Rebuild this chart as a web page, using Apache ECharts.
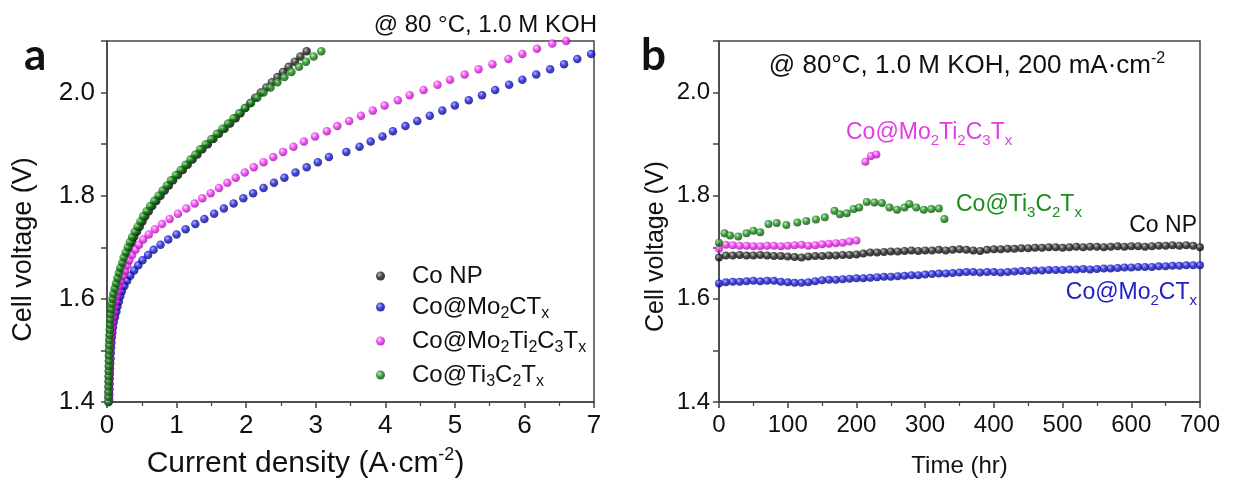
<!DOCTYPE html>
<html>
<head>
<meta charset="UTF-8">
<title>Cell voltage</title>
<script src="https://cdn.jsdelivr.net/npm/echarts@6/dist/echarts.min.js"></script>
<style>
  html, body { margin: 0; background: #fff; }
  #main { width: 1233px; height: 494px; }
</style>
</head>
<body>
<div id="main"></div>
<script>
  // ---- panel a: polarization curves (cell voltage vs current density) ----
  var voltA = [1.40, 1.41, 1.42, 1.43, 1.44, 1.45, 1.46, 1.47, 1.48, 1.49,
    1.50, 1.51, 1.52, 1.53, 1.54, 1.55, 1.56, 1.57, 1.58, 1.59,
    1.60, 1.61, 1.62, 1.63, 1.64, 1.65, 1.66, 1.67, 1.68, 1.69,
    1.70, 1.71, 1.72, 1.73, 1.74, 1.75, 1.76, 1.77, 1.78, 1.79,
    1.80, 1.81, 1.82, 1.83, 1.84, 1.85, 1.86, 1.87, 1.88, 1.89,
    1.90, 1.91, 1.92, 1.93, 1.94, 1.95, 1.96, 1.97, 1.98, 1.99,
    2.00, 2.01, 2.02, 2.03, 2.04, 2.05, 2.06, 2.07, 2.08];
  var voltB = [1.405, 1.415, 1.425, 1.435, 1.445, 1.455, 1.465, 1.475, 1.485, 1.495,
    1.505, 1.515, 1.525, 1.535, 1.545, 1.555, 1.565, 1.575, 1.585, 1.595,
    1.605, 1.615, 1.625, 1.635, 1.645, 1.655, 1.665, 1.675, 1.685, 1.695,
    1.705, 1.715, 1.725, 1.735, 1.745, 1.755, 1.765, 1.775, 1.785, 1.795,
    1.805, 1.815, 1.825, 1.835, 1.845, 1.855, 1.865, 1.875, 1.885, 1.895,
    1.905, 1.915, 1.925, 1.935, 1.945, 1.955, 1.965, 1.975, 1.985, 1.995,
    2.005, 2.015, 2.025, 2.035, 2.045, 2.055, 2.065, 2.075, 2.085, 2.095, 2.1];

  // current density (A cm-2) at each voltage
  var jCoNP = [0.022, 0.023, 0.024, 0.025, 0.026, 0.027, 0.028, 0.029, 0.030, 0.031,
    0.033, 0.035, 0.038, 0.041, 0.045, 0.050, 0.056, 0.064, 0.073, 0.083,
    0.095, 0.11, 0.13, 0.15, 0.17, 0.19, 0.21, 0.24, 0.27, 0.30,
    0.33, 0.36, 0.39, 0.43, 0.47, 0.51, 0.55, 0.60, 0.65, 0.71,
    0.77, 0.83, 0.89, 0.95, 1.02, 1.09, 1.16, 1.23, 1.30, 1.37,
    1.45, 1.53, 1.61, 1.69, 1.77, 1.85, 1.92, 1.99, 2.06, 2.13,
    2.21, 2.29, 2.37, 2.45, 2.53, 2.61, 2.70, 2.78, 2.87];
  var jTi3C2 = [0.020, 0.020, 0.021, 0.022, 0.023, 0.024, 0.025, 0.026, 0.027, 0.028,
    0.030, 0.032, 0.034, 0.037, 0.040, 0.044, 0.048, 0.054, 0.061, 0.070,
    0.080, 0.090, 0.11, 0.13, 0.15, 0.17, 0.19, 0.22, 0.24, 0.27,
    0.30, 0.33, 0.36, 0.40, 0.44, 0.48, 0.52, 0.57, 0.62, 0.68,
    0.74, 0.80, 0.86, 0.92, 0.99, 1.06, 1.13, 1.20, 1.27, 1.34,
    1.42, 1.50, 1.58, 1.66, 1.74, 1.82, 1.90, 1.98, 2.07, 2.16,
    2.25, 2.35, 2.45, 2.55, 2.65, 2.76, 2.86, 2.97, 3.08];
  var jMo2C = [0.030, 0.032, 0.034, 0.036, 0.038, 0.040, 0.043, 0.046, 0.050, 0.054,
    0.058, 0.063, 0.069, 0.076, 0.085, 0.097, 0.115, 0.135, 0.15, 0.17,
    0.19, 0.215, 0.25, 0.29, 0.335, 0.39, 0.45, 0.51, 0.59, 0.67,
    0.77, 0.88, 1.00, 1.13, 1.27, 1.40, 1.54, 1.68, 1.82, 1.96,
    2.10, 2.25, 2.40, 2.55, 2.71, 2.87, 3.03, 3.19, 3.44, 3.63,
    3.79, 3.96, 4.11, 4.29, 4.46, 4.64, 4.82, 5.00, 5.20, 5.39,
    5.58, 5.78, 5.97, 6.17, 6.37, 6.57, 6.76, 6.96];
  var jMo2Ti2 = [0.025, 0.027, 0.029, 0.031, 0.033, 0.035, 0.037, 0.040, 0.043, 0.046,
    0.050, 0.054, 0.059, 0.065, 0.072, 0.080, 0.089, 0.10, 0.11, 0.125,
    0.14, 0.16, 0.18, 0.20, 0.23, 0.26, 0.29, 0.32, 0.36, 0.41,
    0.46, 0.52, 0.60, 0.69, 0.79, 0.90, 1.02, 1.14, 1.26, 1.37,
    1.49, 1.61, 1.73, 1.85, 1.98, 2.11, 2.25, 2.39, 2.53, 2.68,
    2.83, 2.99, 3.16, 3.31, 3.48, 3.65, 3.82, 3.99, 4.18, 4.35,
    4.55, 4.75, 4.93, 5.14, 5.34, 5.54, 5.77, 5.97, 6.18, 6.40, 6.60];

  // ---- panel b: stability at 200 mA cm-2 ----
  var timeB = [0, 10, 20, 30, 40, 50, 60, 70, 80, 90, 100, 110, 120, 130, 140, 150, 160, 170, 180, 190,
    200, 210, 220, 230, 240, 250, 260, 270, 280, 290, 300, 310, 320, 330, 340, 350, 360, 370, 380, 390,
    400, 410, 420, 430, 440, 450, 460, 470, 480, 490, 500, 510, 520, 530, 540, 550, 560, 570, 580, 590,
    600, 610, 620, 630, 640, 650, 660, 670, 680, 690, 700];
  var vCoNP = [1.680, 1.684, 1.684, 1.685, 1.684, 1.684, 1.685, 1.684, 1.683, 1.683,
    1.682, 1.681, 1.680, 1.682, 1.683, 1.683, 1.684, 1.684, 1.685, 1.685,
    1.686, 1.688, 1.690, 1.690, 1.691, 1.692, 1.692, 1.693, 1.694, 1.693,
    1.694, 1.694, 1.695, 1.694, 1.695, 1.696, 1.695, 1.694, 1.693, 1.695,
    1.696, 1.696, 1.697, 1.697, 1.698, 1.698, 1.699, 1.699, 1.700, 1.700,
    1.699, 1.700, 1.701, 1.700, 1.701, 1.701, 1.700, 1.701, 1.702, 1.701,
    1.702, 1.702, 1.701, 1.702, 1.703, 1.703, 1.704, 1.703, 1.704, 1.703, 1.700];
  var vMo2C = [1.630, 1.632, 1.633, 1.633, 1.634, 1.635, 1.634, 1.635, 1.635, 1.633,
    1.632, 1.631, 1.631, 1.632, 1.634, 1.636, 1.637, 1.637, 1.638, 1.639,
    1.640, 1.640, 1.641, 1.642, 1.643, 1.643, 1.644, 1.645, 1.646, 1.646,
    1.647, 1.648, 1.649, 1.649, 1.650, 1.651, 1.652, 1.652, 1.651, 1.652,
    1.652, 1.651, 1.652, 1.653, 1.654, 1.654, 1.655, 1.655, 1.656, 1.656,
    1.656, 1.657, 1.657, 1.658, 1.657, 1.658, 1.659, 1.659, 1.660, 1.661,
    1.661, 1.662, 1.662, 1.662, 1.663, 1.663, 1.664, 1.664, 1.665, 1.665, 1.665];
  var timeMoTi = [0, 10, 20, 30, 40, 50, 60, 70, 80, 90, 100, 110, 120, 130, 140, 150, 160, 170, 180, 190, 200,
    213, 221, 229];
  var vMoTi = [1.697, 1.705, 1.704, 1.703, 1.703, 1.702, 1.702, 1.703, 1.703, 1.702, 1.703,
    1.704, 1.705, 1.703, 1.704, 1.706, 1.707, 1.708, 1.709, 1.711, 1.713,
    1.866, 1.877, 1.880];
  var timeTi = [0, 8, 16, 28, 40, 50, 60, 72, 84, 98, 114, 127, 141, 154, 168, 176, 186, 196, 204,
    215, 226, 237, 248, 259, 270, 277, 287, 298, 309, 320, 328];
  var vTi = [1.709, 1.727, 1.723, 1.721, 1.727, 1.732, 1.729, 1.745, 1.747, 1.743, 1.748, 1.751,
    1.754, 1.758, 1.771, 1.764, 1.766, 1.774, 1.777, 1.788, 1.787, 1.786, 1.777, 1.773, 1.777,
    1.784, 1.777, 1.773, 1.774, 1.775, 1.755];

  var FONT = '"Liberation Sans", Arial, sans-serif';
  var AXIS = '#444';

  function zip(xs, ys) {
    var out = [];
    var n = Math.min(xs.length, ys.length);
    for (var i = 0; i < n; i++) out.push([xs[i], ys[i]]);
    return out;
  }
  // shaded ball look for the markers
  function ball(hi, mid, lo) {
    return {
      type: 'radial', x: 0.38, y: 0.35, r: 0.7,
      colorStops: [{offset: 0, color: hi}, {offset: 0.45, color: mid}, {offset: 1, color: lo}]
    };
  }
  var cBlack = ball('#b0b0b0', '#1e1e1e', '#000');
  var cBlue = ball('#a0a0ff', '#1414d6', '#040464');
  var cPink = ball('#ffd4ff', '#ee2cee', '#98089e');
  var cGreen = ball('#a8f0a0', '#188a18', '#043e04');

  var names = ['Co NP', 'Co@Mo2CTx', 'Co@Mo2Ti2C3Tx', 'Co@Ti3C2Tx'];
  var richNames = {
    'Co NP': '{g| }{n|Co NP}',
    'Co@Mo2CTx': '{g| }{n|Co@Mo}{s|2}{n|CT}{s|x}',
    'Co@Mo2Ti2C3Tx': '{g| }{n|Co@Mo}{s|2}{n|Ti}{s|2}{n|C}{s|3}{n|T}{s|x}',
    'Co@Ti3C2Tx': '{g| }{n|Co@Ti}{s|3}{n|C}{s|2}{n|T}{s|x}'
  };
  // rich styles with subscripts; 'color' for components, 'fill' for graphic text
  function subRich(size, color) {
    return {
      g: {width: 22, fontSize: size},
      n: {fontSize: size, fontFamily: FONT, color: color, fill: color, lineHeight: 30, verticalAlign: 'middle'},
      s: {fontSize: Math.round(size * 0.65), fontFamily: FONT, color: color, fill: color, lineHeight: 14, verticalAlign: 'bottom'}
    };
  }

  function valueAxis(gridIndex, opts) {
    return Object.assign({
      type: 'value', gridIndex: gridIndex,
      axisLine: {show: true, onZero: false, lineStyle: {color: AXIS, width: 1.5}},
      axisTick: {show: true, inside: false, length: 6, lineStyle: {color: AXIS, width: 1.5}},
      minorTick: {show: false},
      splitLine: {show: false},
      nameLocation: 'middle'
    }, opts);
  }

  var yLabelFmt = function (v) {
    var k = Math.round(v * 10);
    return k % 2 === 0 ? (k / 10).toFixed(1) : '';
  };

  var option = {
    backgroundColor: '#fff',
    animation: false,
    textStyle: {fontFamily: FONT},
    grid: [
      {left: 107, top: 41, width: 487, height: 361, show: true, borderColor: AXIS, borderWidth: 1.5},
      {left: 719, top: 41, width: 481, height: 361, show: true, borderColor: AXIS, borderWidth: 1.5}
    ],
    xAxis: [
      valueAxis(0, {
        min: 0, max: 7, interval: 1,
        minorTick: {show: true, splitNumber: 2, length: 4, lineStyle: {color: AXIS, width: 1.2}},
        axisLabel: {fontSize: 26, color: '#111', margin: 11, fontFamily: FONT},
        name: '{n|Current density (A·cm}{sup|-2}{n|)}',
        nameGap: 44,
        nameTextStyle: {
          padding: [0, 90, 0, 0],
          rich: {
            n: {fontSize: 30, fontFamily: FONT, color: '#111', lineHeight: 36, verticalAlign: 'middle'},
            sup: {fontSize: 18, fontFamily: FONT, color: '#111', lineHeight: 26, verticalAlign: 'top'}
          }
        }
      }),
      valueAxis(1, {
        min: 0, max: 700, interval: 100,
        minorTick: {show: true, splitNumber: 2, length: 4, lineStyle: {color: AXIS, width: 1.2}},
        axisLabel: {fontSize: 24, color: '#111', margin: 11, fontFamily: FONT},
        name: 'Time (hr)',
        nameGap: 52,
        nameTextStyle: {fontSize: 24, color: '#111', fontFamily: FONT}
      })
    ],
    yAxis: [
      valueAxis(0, {
        min: 1.4, max: 2.1, interval: 0.1,
        axisLabel: {fontSize: 26, color: '#111', margin: 12, fontFamily: FONT, formatter: yLabelFmt},
        name: 'Cell voltage (V)',
        nameGap: 70,
        nameTextStyle: {fontSize: 27, color: '#111', fontFamily: FONT, padding: [0, 56, 0, 0]}
      }),
      valueAxis(1, {
        min: 1.4, max: 2.1, interval: 0.1,
        axisLabel: {fontSize: 24, color: '#111', margin: 9, fontFamily: FONT, formatter: yLabelFmt},
        name: 'Cell voltage (V)',
        nameGap: 50,
        nameTextStyle: {fontSize: 25, color: '#111', fontFamily: FONT, padding: [0, 50, 0, 0]}
      })
    ],
    legend: {
      data: names,
      orient: 'vertical',
      left: 371, top: 259,
      itemWidth: 9, itemHeight: 9, itemGap: 7,
      icon: 'circle',
      selectedMode: false,
      formatter: function (name) { return richNames[name]; },
      textStyle: {rich: subRich(24, '#111')}
    },
    series: [
      {name: 'Co NP', type: 'scatter', xAxisIndex: 0, yAxisIndex: 0, symbolSize: 8.5,
        itemStyle: {color: cBlack}, data: zip(jCoNP, voltA)},
      {name: 'Co@Mo2CTx', type: 'scatter', xAxisIndex: 0, yAxisIndex: 0, symbolSize: 8.5,
        itemStyle: {color: cBlue}, data: zip(jMo2C, voltB)},
      {name: 'Co@Mo2Ti2C3Tx', type: 'scatter', xAxisIndex: 0, yAxisIndex: 0, symbolSize: 8.5,
        itemStyle: {color: cPink}, data: zip(jMo2Ti2, voltB)},
      {name: 'Co@Ti3C2Tx', type: 'scatter', xAxisIndex: 0, yAxisIndex: 0, symbolSize: 8.5,
        itemStyle: {color: cGreen}, data: zip(jTi3C2, voltA)},

      {name: 'b Co NP', type: 'scatter', xAxisIndex: 1, yAxisIndex: 1, symbolSize: 8,
        itemStyle: {color: cBlack}, data: zip(timeB, vCoNP)},
      {name: 'b Co@Mo2CTx', type: 'scatter', xAxisIndex: 1, yAxisIndex: 1, symbolSize: 8,
        itemStyle: {color: cBlue}, data: zip(timeB, vMo2C)},
      {name: 'b Co@Mo2Ti2C3Tx', type: 'scatter', xAxisIndex: 1, yAxisIndex: 1, symbolSize: 8,
        itemStyle: {color: cPink}, data: zip(timeMoTi, vMoTi)},
      {name: 'b Co@Ti3C2Tx', type: 'scatter', xAxisIndex: 1, yAxisIndex: 1, symbolSize: 8,
        itemStyle: {color: cGreen}, data: zip(timeTi, vTi)}
    ],
    graphic: [
      {type: 'text', x: 24, y: 56, style: {text: 'a', font: 'bold 44px Lato, "Open Sans", sans-serif', fill: '#111', verticalAlign: 'middle'}},
      {type: 'text', x: 641, y: 56, style: {text: 'b', font: 'bold 44px Lato, "Open Sans", sans-serif', fill: '#111', verticalAlign: 'middle'}},
      {type: 'text', x: 597, y: 25, style: {text: '@ 80 °C, 1.0 M KOH', font: '24px ' + FONT, fill: '#111', align: 'right', verticalAlign: 'middle'}},
      {type: 'text', x: 967, y: 66, style: {
        text: '{n|@ 80°C, 1.0 M KOH, 200 mA·cm}{sup|-2}', align: 'center', verticalAlign: 'middle',
        rich: {
          n: {fontSize: 26, fontFamily: FONT, fill: '#111', lineHeight: 30, verticalAlign: 'middle'},
          sup: {fontSize: 16, fontFamily: FONT, fill: '#111', lineHeight: 22, verticalAlign: 'top'}
        }}},
      {type: 'text', x: 846, y: 133, style: {text: '{n|Co@Mo}{s|2}{n|Ti}{s|2}{n|C}{s|3}{n|T}{s|x}',
        align: 'left', verticalAlign: 'middle', rich: subRich(23, '#e43ce4')}},
      {type: 'text', x: 956, y: 205, style: {text: '{n|Co@Ti}{s|3}{n|C}{s|2}{n|T}{s|x}',
        align: 'left', verticalAlign: 'middle', rich: subRich(23, '#1c8c1c')}},
      {type: 'text', x: 1197, y: 226, style: {text: '{n|Co NP}',
        align: 'right', verticalAlign: 'middle', rich: subRich(23, '#111')}},
      {type: 'text', x: 1197, y: 293, style: {text: '{n|Co@Mo}{s|2}{n|CT}{s|x}',
        align: 'right', verticalAlign: 'middle', rich: subRich(23, '#2020c4')}}
    ]
  };

  echarts.init(document.getElementById('main')).setOption(option);
</script>
</body>
</html>
